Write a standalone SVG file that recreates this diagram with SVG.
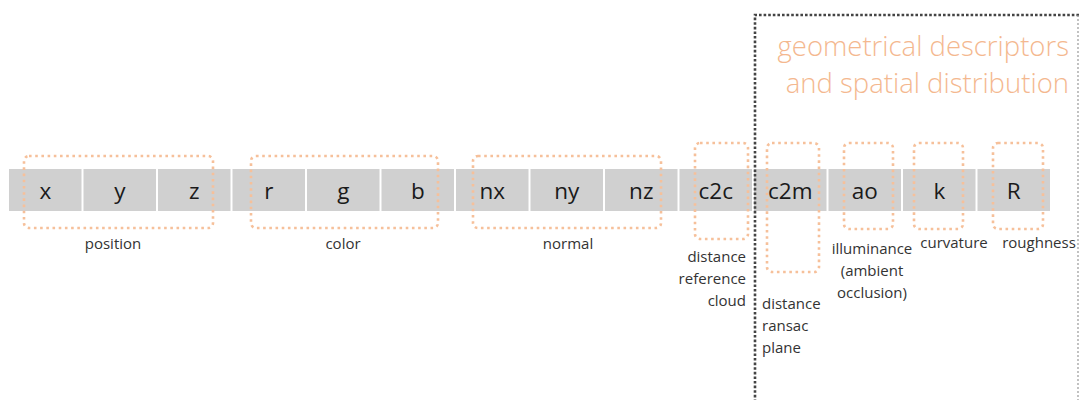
<svg xmlns="http://www.w3.org/2000/svg" width="1081" height="400" viewBox="0 0 1081 400">
<style>
.cell{fill:#d0d0d0}
.ct{font-family:"Open Sans",sans-serif;font-size:22.5px;fill:#1a1a1a;text-anchor:middle}
.b{font-weight:500}
.grp{fill:none;stroke:#f6c09a;stroke-width:2.6;stroke-dasharray:2.6 3.6}
.lb{font-family:"Open Sans",sans-serif;font-size:15px;fill:#333}
.frame{fill:none;stroke:#444;stroke-width:2.6;stroke-dasharray:2.6 2}
.title{font-family:"Open Sans",sans-serif;font-weight:300;font-size:27.5px;fill:#f4b88f;text-anchor:end}
</style>
<rect width="1081" height="400" fill="#fff"/>
<g id="cells">
<g id="cell-x"><rect class="cell" x="9" y="169" width="72.5" height="42"/><text class="ct" x="45.3" y="199">x</text></g>
<g id="cell-y"><rect class="cell" x="83.5" y="169" width="72.5" height="42"/><text class="ct" x="119.8" y="199">y</text></g>
<g id="cell-z"><rect class="cell" x="158" y="169" width="72.5" height="42"/><text class="ct" x="194.3" y="199">z</text></g>
<g id="cell-r"><rect class="cell" x="232.5" y="169" width="72.5" height="42"/><text class="ct" x="268.8" y="199">r</text></g>
<g id="cell-g"><rect class="cell" x="307" y="169" width="72.5" height="42"/><text class="ct" x="343.3" y="199">g</text></g>
<g id="cell-b"><rect class="cell" x="381.5" y="169" width="72.5" height="42"/><text class="ct" x="417.8" y="199">b</text></g>
<g id="cell-nx"><rect class="cell" x="456" y="169" width="72.5" height="42"/><text class="ct" x="492.3" y="199">nx</text></g>
<g id="cell-ny"><rect class="cell" x="530.5" y="169" width="72.5" height="42"/><text class="ct" x="566.8" y="199">ny</text></g>
<g id="cell-nz"><rect class="cell" x="605" y="169" width="72.5" height="42"/><text class="ct" x="641.3" y="199">nz</text></g>
<g id="cell-c2c"><rect class="cell" x="679.5" y="169" width="72.5" height="42"/><text class="ct b" x="715.8" y="199">c2c</text></g>
<g id="cell-c2m"><rect class="cell" x="754" y="169" width="72.5" height="42"/><text class="ct b" x="790.3" y="199">c2m</text></g>
<g id="cell-ao"><rect class="cell" x="828.5" y="169" width="72.5" height="42"/><text class="ct b" x="864.8" y="199">ao</text></g>
<g id="cell-k"><rect class="cell" x="903" y="169" width="72.5" height="42"/><text class="ct b" x="939.3" y="199">k</text></g>
<g id="cell-R"><rect class="cell" x="977.5" y="169" width="72.5" height="42"/><text class="ct b" x="1013.8" y="199">R</text></g>
</g>
<g id="groups">
<g id="grp-position"><rect class="grp" x="24" y="156" width="189" height="72" rx="5"/><text class="lb" x="113" y="249" text-anchor="middle">position</text></g>
<g id="grp-color"><rect class="grp" x="251" y="156" width="187" height="72" rx="5"/><text class="lb" x="343" y="249" text-anchor="middle">color</text></g>
<g id="grp-normal"><rect class="grp" x="473" y="156" width="188" height="72" rx="5"/><text class="lb" x="568" y="249" text-anchor="middle">normal</text></g>
<g id="grp-c2c"><rect class="grp" x="695" y="143" width="53" height="96" rx="5"/><text class="lb" text-anchor="end"><tspan x="746" y="262">distance</tspan><tspan x="746" y="284">reference</tspan><tspan x="746" y="306">cloud</tspan></text></g>
<g id="grp-c2m"><rect class="grp" x="767" y="143" width="52" height="129" rx="5"/><text class="lb"><tspan x="762" y="309">distance</tspan><tspan x="762" y="331">ransac</tspan><tspan x="762" y="353">plane</tspan></text></g>
<g id="grp-ao"><rect class="grp" x="844" y="143" width="49" height="86" rx="5"/><text class="lb" text-anchor="middle"><tspan x="872" y="254">illuminance</tspan><tspan x="872" y="276">(ambient</tspan><tspan x="872" y="298">occlusion)</tspan></text></g>
<g id="grp-k"><rect class="grp" x="914" y="143" width="49" height="86" rx="5"/><text class="lb" x="954" y="248" text-anchor="middle">curvature</text></g>
<g id="grp-R"><rect class="grp" x="993" y="143" width="50" height="86" rx="5"/><text class="lb" x="1039" y="248" text-anchor="middle">roughness</text></g>
</g>
<g id="frame">
<path class="frame" d="M755,402 V15 H1081"/>
<path d="M1078,15 V402" fill="none" stroke="#999" stroke-width="1.2" stroke-dasharray="2 2"/>
<text class="title"><tspan x="1069" y="56">geometrical descriptors</tspan><tspan x="1069" y="93">and spatial distribution</tspan></text>
</g>
</svg>
